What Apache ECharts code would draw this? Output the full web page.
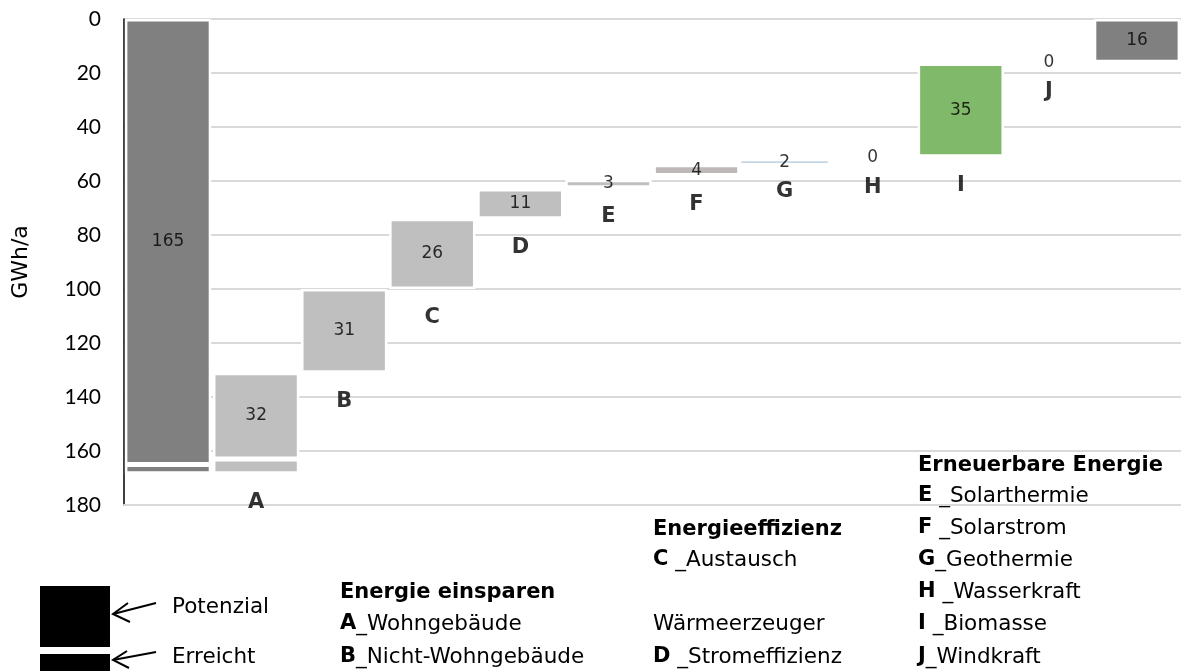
<!DOCTYPE html>
<html>
<head>
<meta charset="utf-8">
<script src="https://cdn.jsdelivr.net/npm/echarts@6/dist/echarts.min.js"></script>
<style>
  html, body { margin: 0; padding: 0; background: #fff; }
  #chart { width: 1181px; height: 671px; }
</style>
</head>
<body>
<div id="chart"></div>
<script>
// Wasserfall: Potenzial / Erreicht je Massnahme (GWh/a)
var categories = ['Start', 'A', 'B', 'C', 'D', 'E', 'F', 'G', 'H', 'I', 'J', 'Ende'];
var baseVals = [0, 131, 100, 74, 63, 59.5, 54, 52.7, 51.5, 16.5, 16, 0];
var potenzialVals = [165, 32, 31, 26, 11, 3, 4, 0.6, 0, 34.5, 0, 16];
var erreichtVals = [3.4, 5.4, 0, 0, 0, 0, 0, 0, 0, 0, 0, 0];
var valueLabels = ['165', '32', '31', '26', '11', '3', '4', '2', '0', '35', '0', '16'];
var letterLabels = ['', 'A', 'B', 'C', 'D', 'E', 'F', 'G', 'H', 'I', 'J', ''];
var yTicks = [0, 20, 40, 60, 80, 100, 120, 140, 160, 180];

var barColors = ['#808080', '#bfbfbf', '#bfbfbf', '#bfbfbf', '#bfbfbf', '#bfbfbf',
                 '#bfb8b8', '#c5d6e6', '#bfbfbf', '#80b96a', '#bfbfbf', '#808080'];
var FONT = 'Lato, "Noto Sans", sans-serif';
var WIDE = '"DejaVu Sans", sans-serif';
var REG = '21.5px ' + WIDE;
var BOLD = 'bold 21px ' + WIDE;
var richB = { b: { fontWeight: 'bold', fontSize: 21, fontFamily: WIDE } };

var chart = echarts.init(document.getElementById('chart'));

function barData(vals) {
    return vals.map(function (v, i) {
        if (!v) return '-';
        return {
            value: v,
            itemStyle: {
                color: barColors[i],
                borderColor: '#fff',
                borderWidth: v < 1 ? 0 : 2.5
            }
        };
    });
}

function txt(x, y, text, font) {
    return {
        type: 'text', x: x, y: y,
        style: { text: text, font: font || REG, fill: '#000', verticalAlign: 'middle', rich: richB }
    };
}

var midVals = baseVals.map(function (b, i) { return b + potenzialVals[i] / 2; });
var bottomVals = baseVals.map(function (b, i) { return b + potenzialVals[i] + erreichtVals[i]; });

var option = {
    animation: false,
    textStyle: { fontFamily: FONT },
    grid: { left: 124, top: 19, width: 1062, height: 486 },
    xAxis: {
        type: 'category',
        data: categories,
        axisLine: { onZero: false, lineStyle: { color: '#d9d9d9', width: 2 } },
        axisTick: { show: false },
        axisLabel: { show: false }
    },
    yAxis: {
        type: 'value',
        inverse: true,
        min: yTicks[0],
        max: yTicks[yTicks.length - 1],
        interval: 20,
        name: 'GWh/a',
        nameLocation: 'middle',
        nameGap: 92,
        nameTextStyle: { fontSize: 22, color: '#000', fontFamily: WIDE },
        axisLine: { show: true, lineStyle: { color: '#000', width: 1.5 } },
        axisTick: { show: false },
        axisLabel: { fontSize: 21, color: '#000', margin: 23, fontFamily: FONT },
        splitLine: { lineStyle: { color: '#d9d9d9', width: 2 } }
    },
    series: [
        {
            name: 'Basis',
            type: 'bar',
            stack: 'w',
            barCategoryGap: '2%',
            itemStyle: { color: 'transparent' },
            data: baseVals
        },
        {
            name: 'Potenzial',
            type: 'bar',
            stack: 'w',
            data: barData(potenzialVals)
        },
        {
            name: 'Erreicht',
            type: 'bar',
            stack: 'w',
            data: barData(erreichtVals)
        },
        {
            name: 'Werte',
            type: 'scatter',
            symbolSize: 0,
            z: 5,
            data: midVals,
            label: {
                show: true,
                position: 'inside',
                fontSize: 17,
                color: '#000',
                fontFamily: WIDE,
                formatter: function (p) { return valueLabels[p.dataIndex]; }
            }
        },
        {
            name: 'Buchstaben',
            type: 'scatter',
            symbolSize: 0,
            z: 5,
            data: bottomVals,
            label: {
                show: true,
                position: 'inside',
                offset: [0, 29],
                fontSize: 21,
                fontWeight: 'bold',
                color: '#000',
                fontFamily: WIDE,
                formatter: function (p) { return letterLabels[p.dataIndex]; }
            }
        }
    ],
    graphic: [
        // Legende links unten
        { type: 'rect', shape: { x: 40, y: 586, width: 70, height: 61 }, style: { fill: '#000' } },
        { type: 'rect', shape: { x: 40, y: 654, width: 70, height: 20 }, style: { fill: '#000' } },
        { type: 'line', shape: { x1: 156, y1: 603, x2: 113, y2: 614 }, style: { stroke: '#000', lineWidth: 2 } },
        { type: 'polyline', shape: { points: [[128, 603], [113, 614], [130, 622]] }, style: { stroke: '#000', lineWidth: 2, fill: null } },
        { type: 'line', shape: { x1: 156, y1: 652, x2: 113, y2: 660 }, style: { stroke: '#000', lineWidth: 2 } },
        { type: 'polyline', shape: { points: [[127, 651], [113, 660], [129, 668]] }, style: { stroke: '#000', lineWidth: 2, fill: null } },
        txt(172, 607, 'Potenzial'),
        txt(172, 657, 'Erreicht'),

        // Energie einsparen
        txt(340, 593, 'Energie einsparen', BOLD),
        txt(340, 624, '{b|A}_Wohngebäude'),
        txt(340, 657, '{b|B}_Nicht-Wohngebäude'),

        // Energieeffizienz
        txt(653, 530, 'Energieeffizienz', BOLD),
        txt(653, 560, '{b|C} _Austausch'),
        txt(653, 624, 'Wärmeerzeuger'),
        txt(653, 657, '{b|D} _Stromeffizienz'),

        // Erneuerbare Energie
        txt(918, 466, 'Erneuerbare Energie', BOLD),
        txt(918, 496, '{b|E} _Solarthermie'),
        txt(918, 528, '{b|F} _Solarstrom'),
        txt(918, 560, '{b|G}_Geothermie'),
        txt(918, 592, '{b|H} _Wasserkraft'),
        txt(918, 624, '{b|I} _Biomasse'),
        txt(918, 657, '{b|J}_Windkraft')
    ]
};

chart.setOption(option);
</script>
</body>
</html>
